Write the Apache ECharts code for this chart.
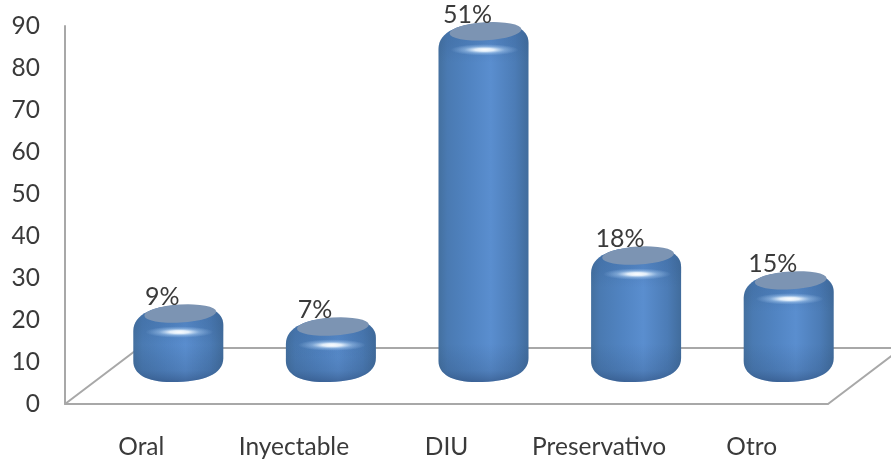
<!DOCTYPE html>
<html><head><meta charset="utf-8">
<script src="https://cdn.jsdelivr.net/npm/echarts@6/dist/echarts.min.js"></script>
<style>html,body{margin:0;padding:0;background:#fff}#c{width:891px;height:460px;filter:blur(0.6px)}</style>
</head><body><div id="c"></div>
<script>
const categories = ['Oral','Inyectable','DIU','Preservativo','Otro'];
const counts = [10.7,7.6,77.9,24.5,18.6];
const percentLabels = ['9%','7%','51%','18%','15%'];
const yMax = 90, yStep = 10;

const FONT = 'Lato, "Open Sans", sans-serif';
const TEXT = '#3a3a3a', LINE = '#a8a8a8';
const RX = 45, RY = 16, DX = 37, DY = 38;

function renderCylinder(params, api){
  const i = api.value(0), v = api.value(1);
  const pt = api.coord([i, v]), base = api.coord([i, 0]);
  const cx = pt[0] + DX, t = pt[1] - DY, b = base[1] - DY;
  const sTop = t - RY, sBot = b + RY;
  const d =
    `M${cx-RX} ${t+10} C${cx-RX} ${t-7} ${cx-24} ${sTop} ${cx+7} ${sTop}` +
    ` C${cx+30} ${sTop} ${cx+RX} ${t-10} ${cx+RX} ${t+4}` +
    ` L${cx+RX} ${b-8} C${cx+RX} ${b+8} ${cx+26} ${sBot} ${cx-7} ${sBot}` +
    ` C${cx-32} ${sBot} ${cx-RX} ${b+8} ${cx-RX} ${b-5} Z`;
  const body = {type:'linear',x:0,y:0,x2:1,y2:0,colorStops:[
    {offset:0,color:'#44709f'},{offset:.1,color:'#4a7ab2'},
    {offset:.35,color:'#5184c2'},{offset:.58,color:'#5a8ecf'},
    {offset:.85,color:'#4c7cb6'},{offset:1,color:'#416c9c'}]};
  const bottomShade = {type:'linear',global:true,x:0,y:b-22,x2:0,y2:sBot,colorStops:[
    {offset:0,color:'rgba(40,70,110,0)'},{offset:.7,color:'rgba(40,70,110,.2)'},
    {offset:1,color:'rgba(30,55,95,.45)'}]};
  const topShade = {type:'linear',global:true,x:0,y:sTop,x2:0,y2:t+24,colorStops:[
    {offset:0,color:'rgba(50,90,140,.3)'},{offset:.55,color:'rgba(50,90,140,.18)'},
    {offset:1,color:'rgba(50,90,140,0)'}]};
  return {type:'group',children:[
    {type:'path',shape:{pathData:d},style:{fill:body}},
    {type:'path',shape:{pathData:d},style:{fill:bottomShade}},
    {type:'path',shape:{pathData:d},style:{fill:topShade}},
    {type:'circle',x:cx+2,y:sTop+8.5,scaleY:.25,rotation:.06,shape:{cx:0,cy:0,r:36},
      style:{fill:'#7c94b3'}},
    {type:'circle',x:cx+1,y:sTop+27,scaleY:.17,shape:{cx:0,cy:0,r:34},
      style:{fill:{type:'radial',x:.5,y:.5,r:.5,colorStops:[
        {offset:0,color:'rgba(255,255,255,1)'},{offset:.28,color:'rgba(240,248,255,.9)'},
        {offset:.6,color:'rgba(190,220,250,.4)'},{offset:1,color:'rgba(170,205,245,0)'}]}}},
    {type:'text',x:cx-16,y:sTop-8,style:{text:percentLabels[i],font:'25px '+FONT,
      fill:TEXT,align:'center',verticalAlign:'middle'}}
  ]};
}

function renderFloor(params){
  const s = params.coordSys, L = s.x, R = s.x+s.width, B = s.y+s.height;
  return {type:'polyline',shape:{points:[[L,B],[L+74,B-56],[R+74,B-56],[R,B]]},
    style:{fill:null,stroke:LINE,lineWidth:2}};
}

const chart = echarts.init(document.getElementById('c'),null,{renderer:'canvas'});
chart.setOption({
  animation:false,
  backgroundColor:'#fff',
  grid:{left:65,right:63,top:26,bottom:56,containLabel:false},
  xAxis:{type:'category',data:categories,
    axisLine:{onZero:false,lineStyle:{color:LINE,width:2}},axisTick:{show:false},
    axisLabel:{margin:31,fontSize:24.5,fontFamily:FONT,color:TEXT,interval:0},splitLine:{show:false}},
  yAxis:{type:'value',min:0,max:yMax,interval:yStep,
    axisLine:{show:true,lineStyle:{color:LINE,width:2}},axisTick:{show:false},
    axisLabel:{margin:25,fontSize:24.5,fontFamily:FONT,color:TEXT,padding:[9,0,0,0]},splitLine:{show:false}},
  series:[
    {type:'custom',coordinateSystem:'cartesian2d',clip:false,silent:true,z:1,
      renderItem:renderFloor,data:[[0,0]]},
    {type:'custom',coordinateSystem:'cartesian2d',clip:false,z:3,
      renderItem:renderCylinder,encode:{x:0,y:1},
      data:categories.map((c,i)=>[i,counts[i]])}
  ]
});
</script></body></html>
